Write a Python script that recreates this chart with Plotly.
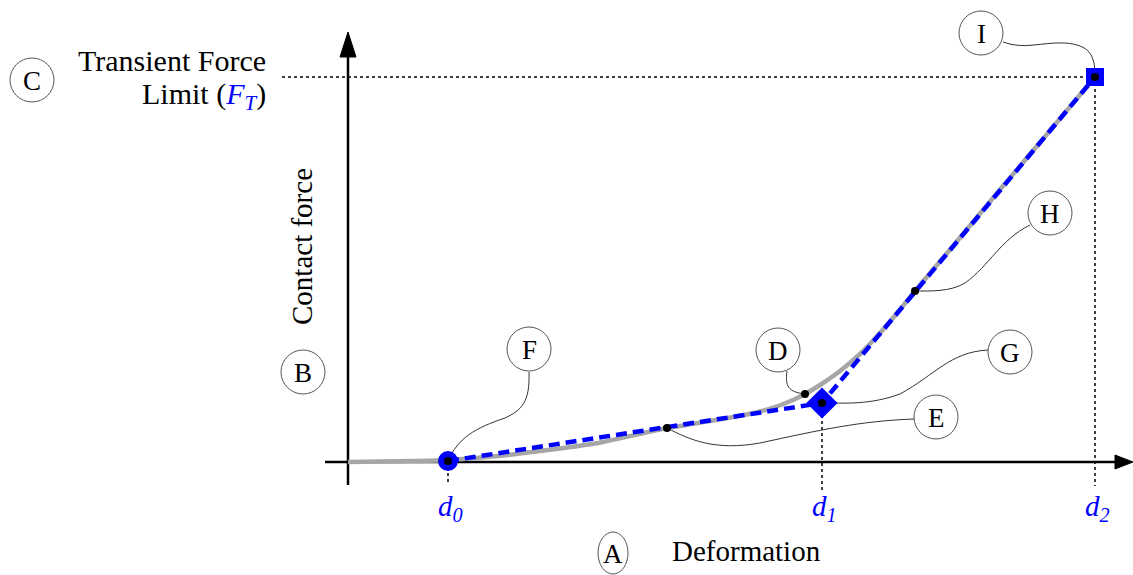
import numpy as np
import plotly.graph_objects as go

# ---- data (deformation / contact-force units) ----
# smooth measured-style contact curve (gray)
curve_x = [0.0, 0.5, 1.0, 1.5, 2.0, 2.5, 3.0, 3.19, 3.5, 3.8, 4.1, 4.3, 4.45, 4.57,
           4.72, 4.92, 5.12, 5.32, 5.5, 5.67, 6.0, 6.5, 7.0, 7.47]
curve_y = [0.0, 0.008, 0.02, 0.06, 0.12, 0.19, 0.30, 0.34, 0.39, 0.44, 0.50, 0.56,
           0.62, 0.68, 0.77, 0.91, 1.08, 1.29, 1.50, 1.71, 2.10, 2.70, 3.29, 3.85]

# piecewise-linear model through the key deformations d0, d1, d2
key_labels = ["d<sub>0</sub>", "d<sub>1</sub>", "d<sub>2</sub>"]
key_x = [1.0, 4.74, 7.47]
key_y = [0.01, 0.59, 3.85]
force_limit = 3.85

# annotated points on the curve: D, E, H
callout_names = ["D", "E", "H"]
callout_x = [4.57, 3.19, 5.67]
callout_y = [float(np.interp(v, curve_x, curve_y)) for v in callout_x]

BLUE = "#0000FF"
GRAY = "#A6A6A6"
SERIF = "Liberation Serif"

# ---- pixel helpers for layout elements (100 px per unit, origin at 348/462) ----
OX, OY, S = 348, 462, 100.0


def X(p):
    return (p - OX) / S


def Y(p):
    return (OY - p) / S


def path(pts_cmds):
    out = []
    for tok in pts_cmds:
        if isinstance(tok, str):
            out.append(tok)
        else:
            out.append(f"{X(tok[0]):.4f},{Y(tok[1]):.4f}")
    return " ".join(out)


fig = go.Figure()

# gray contact curve
fig.add_trace(go.Scatter(x=curve_x, y=curve_y, mode="lines",
                         line=dict(color=GRAY, width=4.5, shape="spline", smoothing=0.8),
                         hoverinfo="skip"))
# blue dashed piecewise-linear model
fig.add_trace(go.Scatter(x=key_x, y=key_y, mode="lines",
                         line=dict(color=BLUE, width=4.5, dash="11px,6px"),
                         hoverinfo="skip"))
# key markers
for sym, size, i in [("circle", 20, 0), ("diamond", 24, 1), ("square", 18, 2)]:
    fig.add_trace(go.Scatter(x=[key_x[i]], y=[key_y[i]], mode="markers",
                             marker=dict(symbol=sym, size=size, color=BLUE,
                                         line=dict(width=0)),
                             hoverinfo="skip"))
# black dots
fig.add_trace(go.Scatter(x=key_x + callout_x, y=key_y + callout_y, mode="markers",
                         marker=dict(size=8, color="black"), hoverinfo="skip"))

shapes = []
# axes
shapes.append(dict(type="line", x0=X(325), y0=0, x1=X(1118), y1=0,
                   line=dict(color="black", width=2.5), layer="below"))
shapes.append(dict(type="line", x0=0, y0=Y(485), x1=0, y1=Y(50),
                   line=dict(color="black", width=2.5), layer="below"))
shapes.append(dict(type="path",
                   path=path(["M", (1133, 462), "L", (1115, 455), "L", (1115, 469), "Z"]),
                   fillcolor="black", line=dict(color="black", width=1)))
shapes.append(dict(type="path",
                   path=path(["M", (348, 32), "L", (340, 57), "L", (356, 57), "Z"]),
                   fillcolor="black", line=dict(color="black", width=1)))

# dotted guides
dot = dict(color="black", width=1.5, dash="dot")
shapes.append(dict(type="line", x0=X(282), y0=force_limit, x1=key_x[2], y1=force_limit,
                   line=dot, layer="below"))
shapes.append(dict(type="line", x0=key_x[2], y0=force_limit, x1=key_x[2], y1=Y(486),
                   line=dot, layer="below"))
shapes.append(dict(type="line", x0=key_x[1], y0=key_y[1], x1=key_x[1], y1=Y(490),
                   line=dot, layer="below"))
shapes.append(dict(type="line", x0=key_x[0], y0=key_y[0], x1=key_x[0], y1=Y(482),
                   line=dot, layer="below"))

# leader lines from callout circles to points
lead = dict(color="#333333", width=1)
leaders = [
    ["M", (529, 372), "C", (530, 402), (522, 410), (505, 418),
     "C", (475, 428), (458, 438), (key_x[0] * S + OX, OY - key_y[0] * S)],
    ["M", (787, 371), "C", (785, 386), (788, 392),
     (callout_x[0] * S + OX, OY - callout_y[0] * S)],
    ["M", (914, 419), "C", (860, 421), (820, 430), (760, 443),
     "C", (715, 451), (690, 440), (callout_x[1] * S + OX, OY - callout_y[1] * S)],
    ["M", (988, 350), "C", (950, 352), (935, 375), (900, 394),
     "C", (870, 405), (845, 403), (key_x[1] * S + OX, OY - key_y[1] * S)],
    ["M", (1030, 225), "C", (1000, 240), (990, 265), (965, 283),
     "C", (950, 292), (930, 291), (callout_x[2] * S + OX, OY - callout_y[2] * S)],
    ["M", (1003, 42), "C", (1025, 50), (1040, 42), (1065, 43),
     "C", (1090, 45), (1095, 55), (key_x[2] * S + OX, OY - key_y[2] * S)],
]
for lp in leaders:
    shapes.append(dict(type="path", path=path(lp), line=lead, layer="below"))

# callout circles
circles = {"A": (613, 553, 15, 21), "B": (303, 372, 22, 22), "C": (32, 80, 22, 22),
           "D": (778, 350, 22, 22), "E": (936, 417, 22, 22), "F": (529, 349, 22, 22),
           "G": (1010, 352, 22, 22), "H": (1050, 213, 22, 22), "I": (981, 33, 22, 22)}
annotations = []
for name, (cx, cy, rx, ry) in circles.items():
    shapes.append(dict(type="circle", x0=X(cx - rx), x1=X(cx + rx),
                       y0=Y(cy + ry), y1=Y(cy - ry),
                       line=dict(color="#555555", width=1), fillcolor="white"))
    annotations.append(dict(x=X(cx), y=Y(cy + 1), text=name, showarrow=False,
                            xanchor="center", yanchor="middle",
                            font=dict(family=SERIF, size=27, color="black")))

# axis titles and labels
annotations.append(dict(x=X(670), y=Y(551), text="Deformation", showarrow=False,
                        xanchor="left", yanchor="middle",
                        font=dict(family=SERIF, size=29, color="black")))
annotations.append(dict(x=X(302), y=Y(247), text="Contact force", showarrow=False,
                        textangle=-90, xanchor="center", yanchor="middle",
                        font=dict(family=SERIF, size=29, color="black")))
annotations.append(dict(x=X(268), y=Y(60), text="Transient Force", showarrow=False,
                        xanchor="right", yanchor="middle",
                        font=dict(family=SERIF, size=30, color="black")))
annotations.append(dict(x=X(268), y=Y(96),
                        text=f"Limit (<span style='color:{BLUE}'><i>F<sub>T</sub></i></span>)",
                        showarrow=False, xanchor="right", yanchor="middle",
                        font=dict(family=SERIF, size=30, color="black")))
for lab, xv in zip(key_labels, key_x):
    annotations.append(dict(x=xv, y=Y(508), text=f"<i>{lab}</i>", showarrow=False,
                            xanchor="center", yanchor="middle", xshift=2,
                            font=dict(family=SERIF, size=29, color=BLUE)))

fig.update_layout(
    width=1133, height=575,
    margin=dict(l=0, r=0, t=0, b=0),
    paper_bgcolor="white", plot_bgcolor="white",
    showlegend=False,
    xaxis=dict(range=[X(0), X(1133)], visible=False, fixedrange=True),
    yaxis=dict(range=[Y(575), Y(0)], visible=False, fixedrange=True),
    shapes=shapes, annotations=annotations,
)

fig.write_html("out.html")
